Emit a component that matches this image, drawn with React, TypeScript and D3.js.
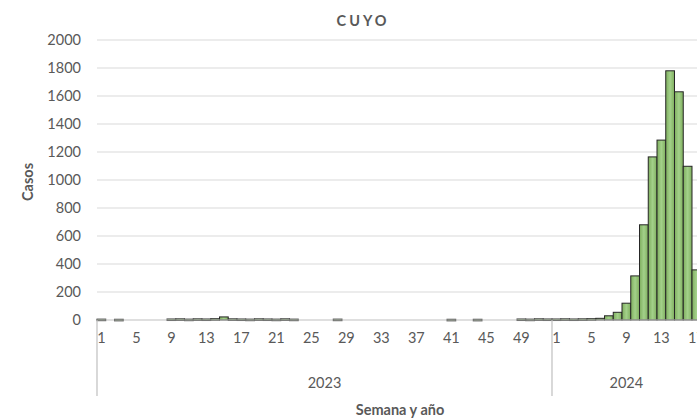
import React from "react";
import * as d3 from "d3";

const weeks2023: number[] = d3.range(1, 53);
const weeks2024: number[] = d3.range(1, 18);
const cases2023: number[] = [
  6, 0, 5, 0, 0, 0, 0, 0, 7, 8, 6, 8, 7, 9, 22, 8, 7, 6, 8, 7, 6, 8, 6, 0, 0, 0, 0, 6, 0, 0,
  0, 0, 0, 0, 0, 0, 0, 0, 0, 0, 5, 0, 0, 5, 0, 0, 0, 0, 7, 6, 8, 7,
];
const cases2024: number[] = [7, 8, 7, 8, 9, 12, 30, 55, 120, 315, 680, 1165, 1285, 1780, 1630, 1098, 358];
const yTicks: number[] = d3.range(0, 2001, 200);
const years: string[] = ["2023", "2024"];

const W = 697;
const H = 420;
const left = 97;
const weekW = 8.75;
const top = 40;
const bottom = 320;
const font = "Lato, 'Open Sans', sans-serif";
const txt = "#595959";
const fs = 14.5;

type Row = { key: string; year: string; week: number; value: number };

export default function App() {
  const rows: Row[] = [
    ...weeks2023.map((w, i) => ({ key: `2023-${w}`, year: years[0], week: w, value: cases2023[i] })),
    ...weeks2024.map((w, i) => ({ key: `2024-${w}`, year: years[1], week: w, value: cases2024[i] })),
  ];
  const x = d3
    .scaleBand<string>()
    .domain(rows.map((r) => r.key))
    .range([left, left + rows.length * weekW])
    .paddingInner(0)
    .paddingOuter(0);
  const y = d3.scaleLinear().domain([0, 2000]).range([bottom, top]);
  const bw = x.bandwidth();
  const yearStart = (yr: string) => x(`${yr}-1`)!;
  const yearEnd = (yr: string) => {
    const ks = rows.filter((r) => r.year === yr);
    return x(ks[ks.length - 1].key)! + bw;
  };

  return (
    <svg
      width={W}
      height={H}
      style={{ position: "absolute", left: 0, top: 0, background: "#fff" }}
      fontFamily={font}
    >
      <defs>
        <linearGradient id="barg" x1="0" x2="1" y1="0" y2="0">
          <stop offset="0" stopColor="#7fae5e" />
          <stop offset="0.5" stopColor="#a3d18a" />
          <stop offset="1" stopColor="#7fae5e" />
        </linearGradient>
      </defs>
      <text x={363} y={26} textAnchor="middle" fontSize={fs} fontWeight="bold" fill={txt} letterSpacing={3}>
        CUYO
      </text>
      {yTicks.map((t) => (
        <g key={t}>
          {t > 0 && (
            <line x1={left} x2={W} y1={y(t)} y2={y(t)} stroke="#d9d9d9" strokeWidth={1.2} />
          )}
          <text x={81} y={y(t) + 5} textAnchor="end" fontSize={fs} fill={txt}>
            {t}
          </text>
        </g>
      ))}
      {rows.map((r) =>
        r.value > 0 ? (
          <rect
            key={r.key}
            x={x(r.key)!}
            y={y(r.value)}
            width={bw}
            height={Math.max(1.5, bottom - y(r.value))}
            fill="url(#barg)"
            stroke="#262626"
            strokeWidth={1}
          />
        ) : null
      )}
      <line x1={left} x2={W} y1={bottom} y2={bottom} stroke="#bfbfbf" strokeWidth={1.2} />
      {rows
        .filter((r) => (r.week - 1) % 4 === 0)
        .map((r) => (
          <text key={r.key} x={x(r.key)! + bw / 2} y={343} textAnchor="middle" fontSize={fs} fill={txt}>
            {r.week}
          </text>
        ))}
      {years.map((yr) => (
        <g key={yr}>
          <line x1={yearStart(yr)} x2={yearStart(yr)} y1={bottom} y2={396} stroke="#bfbfbf" strokeWidth={1.2} />
          <text x={(yearStart(yr) + yearEnd(yr)) / 2} y={388} textAnchor="middle" fontSize={fs} fill={txt}>
            {yr}
          </text>
        </g>
      ))}
      <text x={400} y={415} textAnchor="middle" fontSize={fs} fontWeight="bold" fill={txt}>
        Semana y año
      </text>
      <text
        transform={`translate(33,182) rotate(-90)`}
        textAnchor="middle"
        fontSize={fs}
        fontWeight="bold"
        fill={txt}
      >
        Casos
      </text>
    </svg>
  );
}
